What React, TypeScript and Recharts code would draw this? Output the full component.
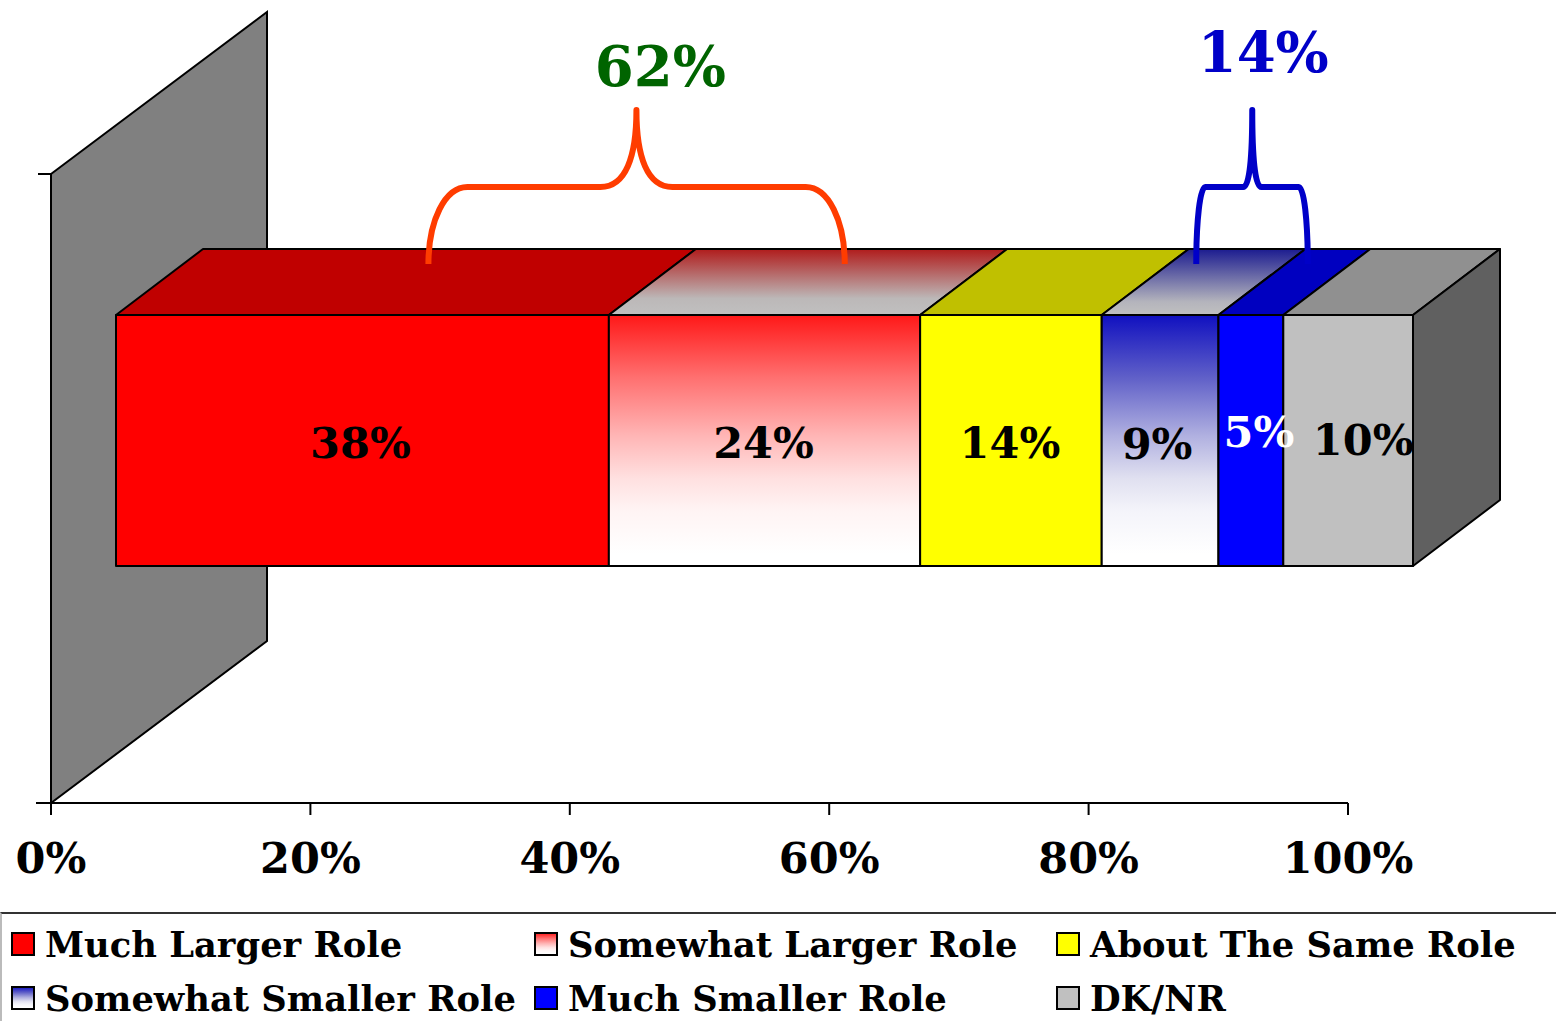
import { Bar, BarChart, LabelList, Legend, ReferenceArea, XAxis, YAxis } from "recharts";

const categories = ["Role"];
const seriesNames = [
  "Much Larger Role",
  "Somewhat Larger Role",
  "About The Same Role",
  "Somewhat Smaller Role",
  "Much Smaller Role",
  "DK/NR",
];
const seriesValues = [38, 24, 14, 9, 5, 10];
const xTicks = [0, 20, 40, 60, 80, 100];

const frontFills = ["#ff0000", "url(#largerFront)", "#ffff00", "url(#smallerFront)", "#0000ff", "#c0c0c0"];
const topFills = ["#c00000", "url(#largerTop)", "#c0c000", "url(#smallerTop)", "#0000c0", "#909090"];
const labelColors = ["#000", "#000", "#000", "#000", "#fff", "#000"];
const labelNudges = [
  [-2, 2],
  [-1, 2],
  [-1, 2],
  [-3, 3],
  [8, -9],
  [15, -1],
];

const rows = categories.map((c) => {
  const row: Record<string, string | number> = { category: c };
  seriesNames.forEach((n, i) => (row[n] = seriesValues[i]));
  return row;
});

const FONT = "'DejaVu Serif', serif";
const DEPTH_X = 87;
const DEPTH_Y = 66;
const SHIFT_X = 65;
const SHIFT_Y = -48;

const Block = (props: any) => {
  const { x, y, width, height, index } = props;
  const i = props.seriesIndex;
  const l = x + SHIFT_X;
  const t = y + SHIFT_Y;
  const r = l + width;
  const b = t + height;
  return (
    <g key={index} stroke="#000" strokeWidth={2} strokeLinejoin="round">
      <polygon
        points={`${l},${t} ${l + DEPTH_X},${t - DEPTH_Y} ${r + DEPTH_X},${t - DEPTH_Y} ${r},${t}`}
        fill={topFills[i]}
      />
      {i === seriesNames.length - 1 && (
        <polygon
          points={`${r},${t} ${r + DEPTH_X},${t - DEPTH_Y} ${r + DEPTH_X},${b - DEPTH_Y} ${r},${b}`}
          fill="#606060"
        />
      )}
      <rect x={l} y={t} width={width} height={height} fill={frontFills[i]} />
    </g>
  );
};

const BarLabel = (props: any, i: number) => {
  const { x, y, width, height, value } = props;
  return (
    <text
      x={x + SHIFT_X + width / 2 + labelNudges[i][0]}
      y={y + SHIFT_Y + height / 2 + labelNudges[i][1]}
      textAnchor="middle"
      dominantBaseline="central"
      fontFamily={FONT}
      fontWeight="bold"
      fontSize={43}
      fill={labelColors[i]}
    >
      {value}%
    </text>
  );
};

const Wall = (props: any) => {
  const { x, y, height } = props;
  return (
    <g stroke="#000" strokeWidth={2}>
      <polygon
        points={`${x},${y} ${x + 216},${y - 162} ${x + 216},${y + height - 162} ${x},${y + height}`}
        fill="#808080"
      />
      <line x1={x - 13} y1={y} x2={x} y2={y} />
      <line x1={x - 15} y1={y + height} x2={x} y2={y + height} />
    </g>
  );
};

const Brace = (props: any, color: string, shoulder: number, inner: number, tipAt: number) => {
  const { x, y, width } = props;
  const right = x + width;
  const tip = x + tipAt;
  const top = y - 64;
  const mid = y + 13;
  const end = y + 90;
  const d = [
    `M${x},${end}`,
    `C${x},${mid + 34} ${x + shoulder * 0.42},${mid} ${x + shoulder},${mid}`,
    `L${tip - inner},${mid}`,
    `C${tip - inner * 0.3},${mid} ${tip},${mid - 30} ${tip},${top}`,
    `C${tip},${mid - 30} ${tip + inner * 0.3},${mid} ${tip + inner},${mid}`,
    `L${right - shoulder},${mid}`,
    `C${right - shoulder * 0.42},${mid} ${right},${mid + 34} ${right},${end}`,
  ].join(" ");
  return <path d={d} fill="none" stroke={color} strokeWidth={6} strokeLinejoin="round" />;
};

const BraceText = (props: any, text: string, color: string, cx: number, cy: number) => (
  <text
    x={props.x + cx}
    y={cy}
    textAnchor="middle"
    dominantBaseline="central"
    fontFamily={FONT}
    fontWeight="bold"
    fontSize={56}
    fill={color}
  >
    {text}
  </text>
);

const LegendBox = ({ payload }: any) => (
  <div
    style={{
      boxSizing: "border-box",
      width: 1556,
      height: 109,
      borderTop: "2px solid #333",
      borderLeft: "2px solid #bbb",
      display: "grid",
      gridTemplateColumns: "523px 522px 509px",
      gridTemplateRows: "54px 54px",
      paddingTop: 3,
      fontFamily: FONT,
      fontWeight: "bold",
      fontSize: 35.3,
      color: "#000",
    }}
  >
    {(payload || []).map((entry: any) => (
      <div key={entry.value} style={{ display: "flex", alignItems: "center", whiteSpace: "nowrap" }}>
        <svg width={24} height={24} style={{ marginLeft: 9, marginRight: 10, flex: "none" }}>
          <rect x={1} y={1} width={22} height={22} fill={entry.color} stroke="#000" strokeWidth={2} />
        </svg>
        {entry.value}
      </div>
    ))}
  </div>
);

export default function App() {
  return (
    <div style={{ position: "absolute", left: 0, top: 0, width: 1556, height: 1021 }}>
      <BarChart
        width={1556}
        height={1021}
        data={rows}
        layout="vertical"
        barSize={251}
        margin={{ top: 174, right: 208, bottom: 0, left: 51 }}
      >
        <defs>
          <linearGradient id="largerFront" x1="0" y1="0" x2="0" y2="1">
            <stop offset="0" stopColor="#ff1818" />
            <stop offset="0.25" stopColor="#ff7070" />
            <stop offset="0.48" stopColor="#ffb5b5" />
            <stop offset="0.65" stopColor="#ffe0e0" />
            <stop offset="0.78" stopColor="#fff4f4" />
            <stop offset="0.95" stopColor="#ffffff" />
          </linearGradient>
          <linearGradient id="largerTop" x1="0" y1="0" x2="0" y2="1">
            <stop offset="0" stopColor="#b01c1c" />
            <stop offset="0.75" stopColor="#bcb8b8" />
            <stop offset="1" stopColor="#c0c0c0" />
          </linearGradient>
          <linearGradient id="smallerFront" x1="0" y1="0" x2="0" y2="1">
            <stop offset="0" stopColor="#1010c0" />
            <stop offset="0.25" stopColor="#6060c8" />
            <stop offset="0.48" stopColor="#b0b0e0" />
            <stop offset="0.65" stopColor="#e0e0f0" />
            <stop offset="0.78" stopColor="#f4f4fa" />
            <stop offset="0.95" stopColor="#ffffff" />
          </linearGradient>
          <linearGradient id="smallerTop" x1="0" y1="0" x2="0" y2="1">
            <stop offset="0" stopColor="#1c1c90" />
            <stop offset="0.8" stopColor="#b4b4bc" />
            <stop offset="1" stopColor="#c0c0c0" />
          </linearGradient>
        </defs>
        <ReferenceArea x1={0} x2={100} ifOverflow="visible" shape={Wall} />
        <XAxis
          type="number"
          domain={[0, 100]}
          ticks={xTicks}
          interval={0}
          height={109}
          tickSize={12}
          tickMargin={27}
          tickFormatter={(v: number) => `${v}%`}
          axisLine={{ stroke: "#000", strokeWidth: 2 }}
          tickLine={{ stroke: "#000", strokeWidth: 2 }}
          tick={{ fontFamily: FONT, fontWeight: "bold", fontSize: 43, fill: "#000" }}
        />
        <YAxis
          type="category"
          dataKey="category"
          width={0}
          tick={false}
          tickLine={false}
          axisLine={{ stroke: "#000", strokeWidth: 2 }}
        />
        {seriesNames.map((name, i) => (
          <Bar
            key={name}
            dataKey={name}
            name={name}
            stackId="role"
            fill={frontFills[i]}
            isAnimationActive={false}
            shape={(p: any) => <Block {...p} seriesIndex={i} />}
          >
            <LabelList dataKey={name} content={(p: any) => BarLabel(p, i)} />
          </Bar>
        ))}
        <ReferenceArea
          x1={29.1}
          x2={61.2}
          ifOverflow="visible"
          zIndex={900}
          shape={(p: any) => (
            <g>
              {Brace(p, "#ff3c00", 39, 36, 208)}
              {BraceText(p, "62%", "#006400", 232, 66)}
            </g>
          )}
        />
        <ReferenceArea
          x1={88.3}
          x2={96.9}
          ifOverflow="visible"
          zIndex={900}
          shape={(p: any) => (
            <g>
              {Brace(p, "#0000c8", 9, 9, 56)}
              {BraceText(p, "14%", "#0000c8", 67, 52)}
            </g>
          )}
        />
        <Legend
          itemSorter={null}
          content={<LegendBox />}
          wrapperStyle={{ left: 0, width: 1556, height: 109 }}
        />
      </BarChart>
    </div>
  );
}
